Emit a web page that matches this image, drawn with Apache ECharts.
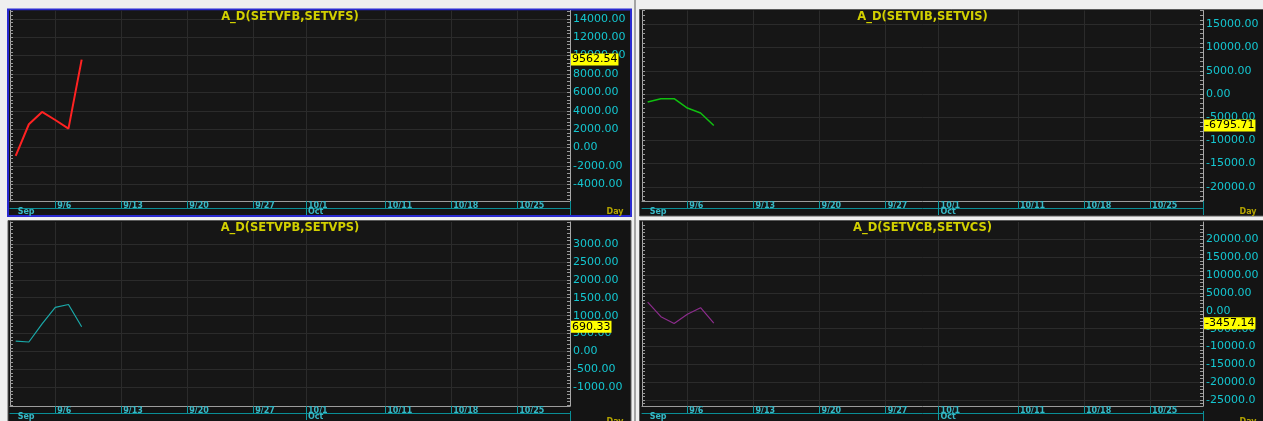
<!DOCTYPE html>
<html><head><meta charset="utf-8">
<script src="https://cdn.jsdelivr.net/npm/echarts@6/dist/echarts.min.js"></script>
<style>html,body{margin:0;padding:0;background:#efefef;}#c{width:1263px;height:421px;}</style>
</head><body><div id="c"></div>
<script>
// ---- data ----
const dates = ['9/1','9/2','9/3','9/6','9/7','9/8','9/9','9/10','9/13','9/14','9/15','9/16','9/17',
  '9/20','9/21','9/22','9/23','9/24','9/27','9/28','9/29','9/30',
  '10/1','10/4','10/5','10/6','10/7','10/8','10/11','10/12','10/13','10/14','10/15',
  '10/18','10/19','10/20','10/21','10/22','10/25','10/26','10/27','10/28','10/29'];
const tickDates = ['9/6','9/13','9/20','9/27','10/1','10/11','10/18','10/25'];
const monthStarts = ['9/1','10/1'];
const monthNames = ['Sep','Oct'];
const dataDates = ['9/1','9/2','9/3','9/6','9/7','9/8'];
const titles = ['A_D(SETVFB,SETVFS)','A_D(SETVIB,SETVIS)','A_D(SETVPB,SETVPS)','A_D(SETVCB,SETVCS)'];
const vfb = [-900, 2540, 3880, 3000, 2070, 9562.54];
const vib = [-1720, -1005, -1005, -3020, -4090, -6795.71];
const vpb = [291, 264, 769, 1231, 1312, 690.33];
const vcb = [2455, -1637, -3546, -928, 900, -3457.14];
const yLabels1 = [-4000,-2000,0,2000,4000,6000,8000,10000,12000,14000];
const yLabels2 = [-20000,-15000,-10000,-5000,0,5000,10000,15000];
const yLabels3 = [-1000,-500,0,500,1000,1500,2000,2500,3000];
const yLabels4 = [-25000,-20000,-15000,-10000,-5000,0,5000,10000,15000,20000];
const xLabel = 'Day';

// ---- layout / style ----
const FONT = 'DejaVu Sans';
const panels = [
  {left:10, top:10.5, width:560, height:190.5, min:-5800, max:14900, minor:400, vals:vfb, ylab:yLabels1, color:'#ff2222', lw:2},
  {left:642, top:10.5, width:561, height:190.5, min:-23060, max:18000, minor:1000, vals:vib, ylab:yLabels2, color:'#10c010', lw:1.5},
  {left:10, top:222, width:560, height:189, min:-1522, max:3614, minor:100, vals:vpb, ylab:yLabels3, color:'#1aa8a8', lw:1.2},
  {left:642, top:222, width:561, height:189, min:-26650, max:24900, minor:1000, vals:vcb, ylab:yLabels4, color:'#8c2c8c', lw:1.2}
];
const tickIdx = tickDates.map(d => dates.indexOf(d));
const monthIdx = monthStarts.map(d => dates.indexOf(d));
const XMIN = -0.43, XMAX = dates.length - 1;

const grids = [], xAxes = [], yAxes = [], series = [], graphics = [];

const frames = [
  {x:8, y:9.5, w:623, h:206.5, s:'#2a2ad0', lw:2},
  {x:639.5, y:9.5, w:640, h:206.5, s:'#5a5a5a', lw:1},
  {x:8, y:220.5, w:623, h:220, s:'#5a5a5a', lw:1},
  {x:639.5, y:220.5, w:640, h:220, s:'#5a5a5a', lw:1}
];
frames.forEach(f => graphics.push({type:'rect', z:-20, shape:{x:f.x, y:f.y, width:f.w, height:f.h},
  style:{fill:'#141414', stroke:f.s, lineWidth:f.lw}}));
graphics.push({type:'line', z:-20, shape:{x1:635, y1:0, x2:635, y2:421}, style:{stroke:'#a4a4a4', lineWidth:2}});

panels.forEach((p, i) => {
  grids.push({left:p.left, top:p.top, width:p.width, height:p.height, show:true, backgroundColor:'#161616', borderWidth:0});
  xAxes.push({type:'value', gridIndex:i, min:XMIN, max:XMAX, position:'bottom',
    axisLine:{show:true, onZero:false, lineStyle:{color:'#9c9c9c', width:1}},
    axisTick:{show:true, customValues:tickIdx, length:7, lineStyle:{color:'#0f9aa2'}},
    axisLabel:{customValues:tickIdx, formatter:v => dates[Math.round(v)], align:'left', padding:[0,0,0,2],
      margin:1, color:'#38b8c6', fontSize:8, fontWeight:'bold', fontFamily:FONT, lineHeight:8},
    splitLine:{show:true, lineStyle:{color:'#2b2b2b', width:1}}});
  xAxes.push({type:'value', gridIndex:i, min:XMIN, max:XMAX, position:'bottom', offset:7,
    axisLine:{show:true, onZero:false, lineStyle:{color:'#0a8e96', width:1}},
    axisTick:{show:true, customValues:[monthIdx[1]], length:7, lineStyle:{color:'#0f9aa2'}},
    axisLabel:{customValues:monthIdx, formatter:v => monthNames[monthIdx.indexOf(Math.round(v))], align:'left',
      padding:[0,0,0,2], margin:0, color:'#38b8c6', fontSize:8, fontWeight:'bold', fontFamily:FONT, lineHeight:8},
    splitLine:{show:false}});
  yAxes.push({type:'value', gridIndex:i, position:'right', min:p.min, max:p.max,
    axisLine:{show:false}, axisTick:{show:false, customValues:p.ylab},
    axisLabel:{customValues:p.ylab, formatter:v => Number(v).toFixed(2), color:'#14c6d0', fontSize:11,
      fontFamily:FONT, margin:3, width:54, overflow:'truncate', ellipsis:''},
    splitLine:{show:true, lineStyle:{color:'#2b2b2b', width:1}}});
  const dense = [];
  for (let v = Math.ceil(p.min / p.minor) * p.minor; v <= p.max; v += p.minor) dense.push(v);
  ['right','left'].forEach(pos => yAxes.push({type:'value', gridIndex:i, position:pos, min:p.min, max:p.max,
    axisLine:{show:true, onZero:false, lineStyle:{color:'#a8a8a8', width:1}},
    axisTick:{show:true, inside:true, length:3, customValues:dense, lineStyle:{color:'#9a9a9a'}},
    axisLabel:{show:false}, splitLine:{show:false}}));
  const last = p.vals[p.vals.length - 1];
  series.push({type:'line', xAxisIndex:2*i, yAxisIndex:3*i, symbol:'none', animation:false,
    lineStyle:{color:p.color, width:p.lw}, itemStyle:{color:p.color},
    data:p.vals.map((v, k) => [dates.indexOf(dataDates[k]), v]),
    markLine:{silent:true, symbol:['none','circle'], symbolSize:2, animation:false,
      lineStyle:{color:'rgba(0,0,0,0)', width:1, type:'solid'},
      emphasis:{disabled:true},
      label:{show:true, position:'end', distance:1, formatter:() => last.toFixed(2), backgroundColor:'#ffff00',
        color:'#000', fontSize:11, fontFamily:FONT, padding:[1,1,0,1]},
      data:[{yAxis:last, label:{show:true}}]}});
  graphics.push({type:'text', z:50, x:p.left + p.width / 2, y:p.top + 0.5,
    style:{text:titles[i], textAlign:'center', textVerticalAlign:'top', fill:'#d2d000',
      font:'bold 11.5px "DejaVu Sans"'}});
  const bottom = p.top + p.height;
  graphics.push({type:'text', z:50, x:p.left + p.width + 45, y:bottom + 10.5,
    style:{text:xLabel, textAlign:'center', textVerticalAlign:'middle', fill:'#b4a400',
      font:'bold 8px "DejaVu Sans"'}});
  graphics.push({type:'line', z:50, shape:{x1:p.left + p.width + 0.5, y1:bottom, x2:p.left + p.width + 0.5, y2:bottom + 14},
    style:{stroke:'#0a8e96', lineWidth:1}});
});

const chart = echarts.init(document.getElementById('c'), null, {renderer:'canvas'});
chart.setOption({
  backgroundColor:'#efefef', animation:false,
  grid:grids, xAxis:xAxes, yAxis:yAxes, series:series, graphic:graphics
});
</script>
</body></html>
